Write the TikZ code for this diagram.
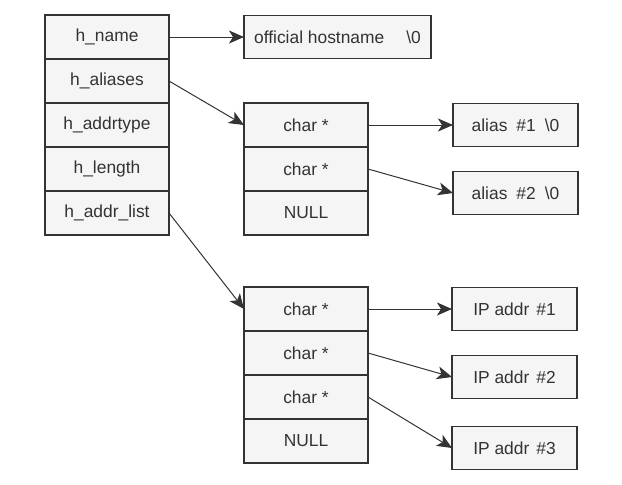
\documentclass[tikz,border=0pt]{standalone}
\usepackage{fontspec}
\setmainfont{Liberation Sans}
\usetikzlibrary{arrows.meta,positioning}
\definecolor{cellfill}{HTML}{F5F5F5}
\definecolor{linegray}{HTML}{333333}
\begin{document}
\begin{tikzpicture}[
    x=1pt, y=-1pt,
    font=\fontsize{17.4}{20}\selectfont,
    cell/.style={draw=linegray, fill=cellfill, text=linegray, line width=1.2pt, outer sep=0pt, inner sep=0pt, minimum width=124pt, minimum height=44pt},
    val/.style={cell, minimum width=125pt, minimum height=43pt},
    ptr/.style={draw=linegray, line width=1pt, -{Stealth[length=15pt, width=13pt, inset=4pt]}},
  ]
    \useasboundingbox (0,0) rectangle (622,485);
    \node[cell] (hname) at (107,37) {h\_name};
    \node[cell, below=0pt of hname] (haliases) {h\_aliases};
    \node[cell, below=0pt of haliases] (haddrtype) {h\_addrtype};
    \node[cell, below=0pt of haddrtype] (hlength) {h\_length};
    \node[cell, below=0pt of hlength] (haddrlist) {h\_addr\_list};
    \node[val, minimum width=187pt, right=75pt of hname] (host) {official hostname\hspace{22pt}\textbackslash0};
    \node[cell] (al1) at (306,125) {char *};
    \node[cell, below=0pt of al1] (al2) {char *};
    \node[cell, below=0pt of al2] (al3) {NULL};
    \node[val, right=85pt of al1] (alias1) {alias\hspace{9pt}\#1\hspace{9pt}\textbackslash0};
    \node[val, below=25pt of alias1] (alias2) {alias\hspace{9pt}\#2\hspace{9pt}\textbackslash0};
    \node[cell] (ad1) at (306,309) {char *};
    \node[cell, below=0pt of ad1] (ad2) {char *};
    \node[cell, below=0pt of ad2] (ad3) {char *};
    \node[cell, below=0pt of ad3] (ad4) {NULL};
    \node[val, right=84pt of ad1] (ip1) {IP addr\hspace{7pt}\#1};
    \node[val, below=25pt of ip1] (ip2) {IP addr\hspace{7pt}\#2};
    \node[val, below=28pt of ip2] (ip3) {IP addr\hspace{7pt}\#3};
    \draw[ptr] (hname) -- (host);
    \draw[ptr] (haliases.east) -- (al1.west);
    \draw[ptr] (haddrlist.east) -- (ad1.west);
    \draw[ptr] (al1) -- (alias1);
    \draw[ptr] (al2.east) -- (alias2.west);
    \draw[ptr] (ad1) -- (ip1);
    \draw[ptr] (ad2.east) -- (ip2.west);
    \draw[ptr] (ad3.east) -- (ip3.west);
  \end{tikzpicture}
\end{document}
